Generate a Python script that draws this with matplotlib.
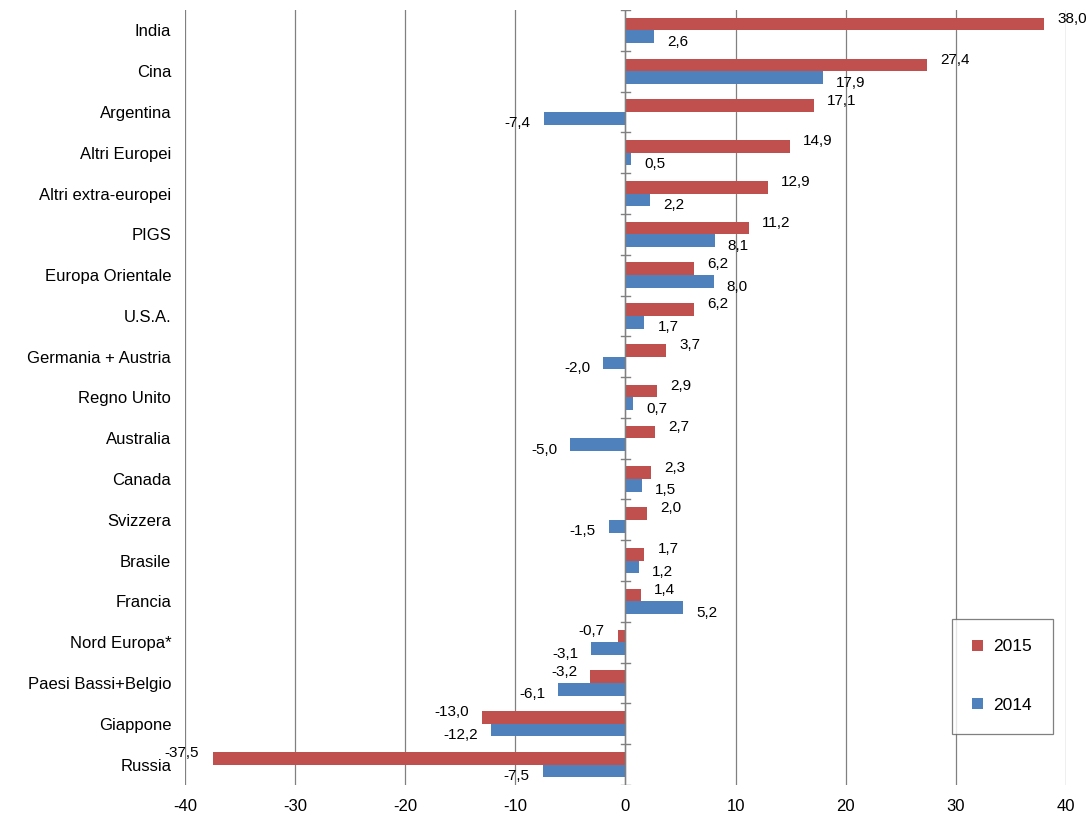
import matplotlib
matplotlib.use("Agg")
import matplotlib.pyplot as plt
import numpy as np

plt.rcParams["font.family"] = ["Liberation Sans", "DejaVu Sans"]
plt.rcParams["axes.unicode_minus"] = False

categories = ["India","Cina","Argentina","Altri Europei","Altri extra-europei","PIGS",
              "Europa Orientale","U.S.A.","Germania + Austria","Regno Unito","Australia",
              "Canada","Svizzera","Brasile","Francia","Nord Europa*","Paesi Bassi+Belgio",
              "Giappone","Russia"]
v2015 = [38.0,27.4,17.1,14.9,12.9,11.2,6.2,6.2,3.7,2.9,2.7,2.3,2.0,1.7,1.4,-0.7,-3.2,-13.0,-37.5]
v2014 = [2.6,17.9,-7.4,0.5,2.2,8.1,8.0,1.7,-2.0,0.7,-5.0,1.5,-1.5,1.2,5.2,-3.1,-6.1,-12.2,-7.5]

red = "#C0504D"; blue = "#4F81BD"
fig = plt.figure(figsize=(10.91, 8.32), dpi=100)
ax = fig.add_axes([0.1696, 0.0565, 0.8074, 0.9315])
n = len(categories)
y = np.arange(n)
h = 0.31
ax.barh(y - h/2, v2015, height=h, color=red, label="2015", zorder=3)
ax.barh(y + h/2, v2014, height=h, color=blue, label="2014", zorder=3)
ax.set_ylim(n - 0.5, -0.5)
ax.set_xlim(-40, 40)
ax.set_xticks(range(-40, 41, 10))
ax.set_yticks(y)
ax.set_yticklabels(categories, fontsize=12)
ax.tick_params(axis="y", length=0, pad=10)
ax.tick_params(axis="x", length=0, labelsize=12, pad=10)
ax.grid(axis="x", color="#808080", linewidth=0.9, zorder=0)
for s in ax.spines.values():
    s.set_visible(False)
ax.axvline(0, color="#808080", linewidth=1, zorder=4)
for b in np.arange(-0.5, n, 1.0):
    ax.plot([-0.45, 0.45], [b, b], color="#808080", linewidth=1, zorder=4)

def fmt(v):
    return f"{v:.1f}".replace(".", ",")
for i in range(n):
    for v, dy in ((v2015[i], -0.28), (v2014[i], 0.28)):
        off = 1.2 if v >= 0 else -1.2
        ax.text(v + off, i + dy, fmt(v), ha="left" if v >= 0 else "right",
                va="center", fontsize=11, zorder=5)

leg = ax.legend(loc="lower right", bbox_to_anchor=(0.995, 0.055), frameon=True,
                fancybox=False, edgecolor="#606060", fontsize=12.5, labelspacing=2.5,
                handlelength=0.6, handleheight=0.6, borderpad=1.2, handletextpad=0.6)
leg.get_frame().set_linewidth(0.9)
fig.savefig("out.png", dpi=100)
